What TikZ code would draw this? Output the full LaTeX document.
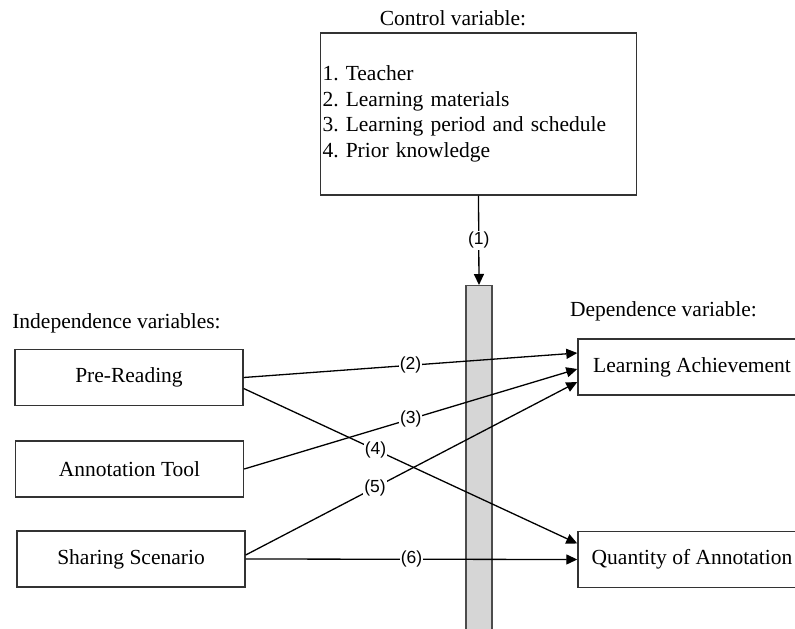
\documentclass[tikz,border=0pt]{standalone}
\usepackage{fontspec}
\setmainfont{Liberation Serif}
\setsansfont{Liberation Sans}
\usetikzlibrary{arrows.meta}
\frenchspacing

\begin{document}
\begin{tikzpicture}[x=1pt,y=-1pt,
    font=\fontsize{21.5}{25.7}\selectfont,
    varbox/.style={draw=black!80, line width=1.4pt, minimum width=228pt, minimum height=56pt},
    tag/.style={fill=white, inner sep=1pt, font=\sffamily\fontsize{17.5}{19}\selectfont},
    arr/.style={line width=1.3pt, -{Triangle[length=11pt,width=10pt]}}]

    % Frame of the picture (the right boxes run past the edge)
    \useasboundingbox (0,0) rectangle (795,629);
    \clip (0,0) rectangle (795,629);

    % Control variable box at the top
    \node (ctrltitle) at (453,18) {Control variable:};
    \node[draw=black!80, line width=1.4pt, text width=312pt, minimum height=162pt,
          align=left, inner xsep=2pt] (ctrl) at (478.5,114)
          {1. Teacher\\2. Learning materials\\3. Learning period and schedule\\4. Prior knowledge};

    % Grey bar in the middle
    \node[draw=black!70, fill=black!16, line width=1.2pt, minimum width=26pt,
          minimum height=360pt, inner sep=0pt, anchor=north] (bar) at (479,285) {};

    % Independence variables on the left
    \node (indtitle) at (116.5,323) {Independence variables:};
    \node[varbox] (pre) at (129,377.5) {Pre-Reading};
    \node[varbox] (tool) at (129.5,469) {Annotation Tool};
    \node[varbox] (share) at (131,559) {Sharing Scenario};

    % Dependence variables on the right
    \node (deptitle) at (663.5,311) {Dependence variable:};
    \node[varbox] (ach) at (692,367) {Learning Achievement};
    \node[varbox] (qty) at (692,559.5) {Quantity of Annotation};

    % Connectors, drawn over the bar
    \draw[arr] (ctrl.south) -- node[tag] {(1)} (bar.north);
    \draw[arr] (pre.east) -- node[tag] {(2)} ([yshift=14pt]ach.west);
    \draw[arr] (tool.east) -- node[tag] {(3)} ([yshift=-2pt]ach.west);
    \draw[arr] ([yshift=-11pt]pre.east) -- node[tag, pos=0.395] {(4)} ([yshift=16pt]qty.west);
    \draw[arr] ([yshift=4pt]share.east) -- node[tag, pos=0.39] {(5)} ([yshift=-15pt]ach.west);
    \draw[arr] (share.east) -- node[tag] {(6)} (qty.west);

\end{tikzpicture}
\end{document}
